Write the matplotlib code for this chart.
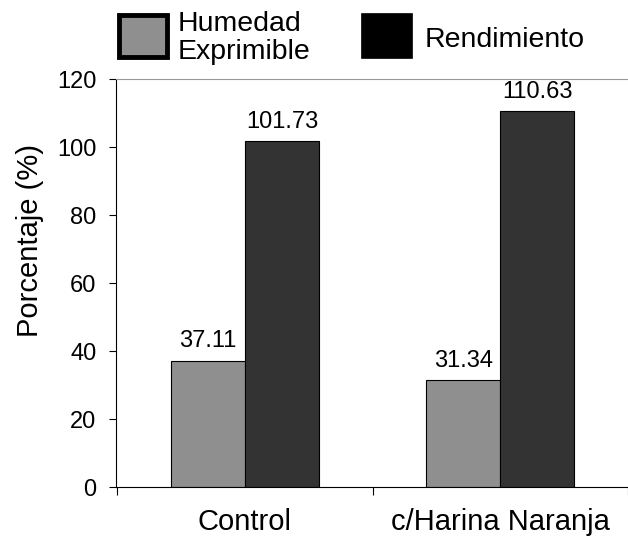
import matplotlib
matplotlib.use("Agg")
import matplotlib.pyplot as plt
from matplotlib.patches import Rectangle
import numpy as np

plt.rcParams['font.family'] = ['Liberation Sans', 'DejaVu Sans']

categories = ["Control", "c/Harina Naranja"]
humedad = [37.11, 31.34]
rendimiento = [101.73, 110.63]
series_names = ["Humedad\nExprimible", "Rendimiento"]
yticks = [0, 20, 40, 60, 80, 100, 120]

gray = "#8f8f8f"
dark = "#333333"

fig = plt.figure(figsize=(6.28, 5.38), dpi=100)
ax = fig.add_axes([116/628, 51/538, 1 - 116/628, 408/538])

x = np.arange(len(categories))
w = 0.29
b1 = ax.bar(x - w/2, humedad, w, color=gray, edgecolor="black", linewidth=0.8)
b2 = ax.bar(x + w/2, rendimiento, w, color=dark, edgecolor="black", linewidth=0.8)

for rects, vals in [(b1, humedad), (b2, rendimiento)]:
    for r, v in zip(rects, vals):
        ax.annotate(f"{v:.2f}", (r.get_x() + r.get_width()/2, v),
                    xytext=(0, 6), textcoords="offset points",
                    ha="center", va="bottom", fontsize=17)

ax.set_ylim(0, 120)
ax.set_xlim(-0.505, 1.485)
ax.set_yticks(yticks)
ax.tick_params(axis="y", labelsize=17, length=5, width=0.8, pad=9)
ax.set_xticks([-0.5, 0.5, 1.5])
ax.set_xticklabels([])
ax.set_xticks(x, minor=True)
ax.set_xticklabels(categories, minor=True, fontsize=21)
ax.tick_params(axis="x", which="major", length=6, width=0.8)
ax.tick_params(axis="x", which="minor", length=0, pad=15)
ax.set_ylabel("Porcentaje (%)", fontsize=21)
ax.yaxis.set_label_coords(-0.141, 0.603)

ax.spines["top"].set_color("#999999")
ax.spines["right"].set_visible(False)
for s in ["left", "bottom"]:
    ax.spines[s].set_linewidth(0.8)

# legend drawn in figure pixels
def px(xp, yp):
    return xp/628, 1 - yp/538

x0, y0 = px(119, 57)
fig.patches.append(Rectangle((x0, y0), 48/628, 42/538, transform=fig.transFigure,
                             facecolor=gray, edgecolor="black", linewidth=3.5))
x1, y1 = px(361, 58)
fig.patches.append(Rectangle((x1, y1), 51/628, 45/538, transform=fig.transFigure,
                             facecolor="black", edgecolor="black", linewidth=0.5))
tx, ty = px(178, 38)
fig.text(tx, ty, series_names[0], fontsize=20.5, va="center", ha="left", linespacing=1.12)
tx, ty = px(425, 40)
fig.text(tx, ty, series_names[1], fontsize=20.5, va="center", ha="left")

fig.savefig("out.png", dpi=100)
